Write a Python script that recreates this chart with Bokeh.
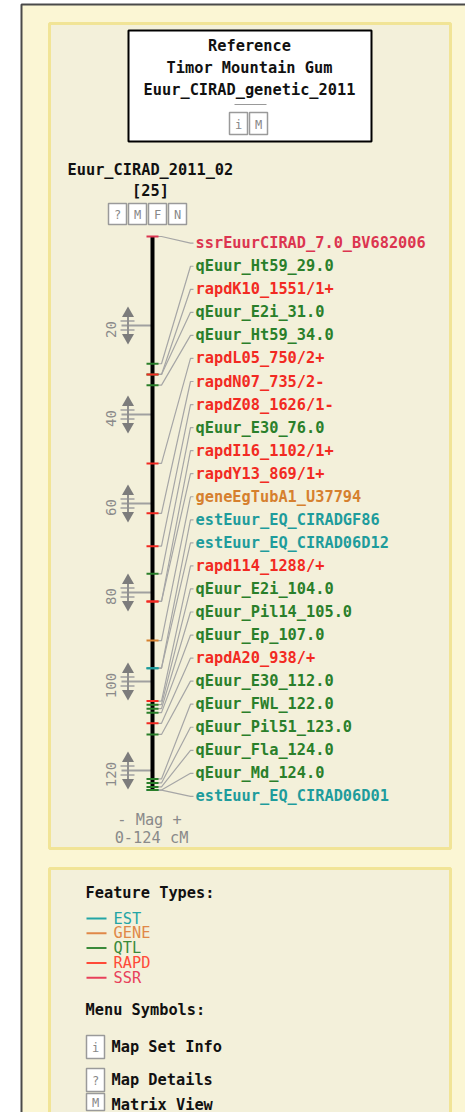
from bokeh.plotting import figure
from bokeh.models import Range1d, ColumnDataSource
from bokeh.core.properties import value
from bokeh.embed import file_html
from bokeh.resources import INLINE
import math

# ---------------- data ----------------
marker_names = [
    "ssrEuurCIRAD_7.0_BV682006", "qEuur_Ht59_29.0", "rapdK10_1551/1+", "qEuur_E2i_31.0",
    "qEuur_Ht59_34.0", "rapdL05_750/2+", "rapdN07_735/2-", "rapdZ08_1626/1-",
    "qEuur_E30_76.0", "rapdI16_1102/1+", "rapdY13_869/1+", "geneEgTubA1_U37794",
    "estEuur_EQ_CIRADGF86", "estEuur_EQ_CIRAD06D12", "rapd114_1288/+", "qEuur_E2i_104.0",
    "qEuur_Pil14_105.0", "qEuur_Ep_107.0", "rapdA20_938/+", "qEuur_E30_112.0",
    "qEuur_FWL_122.0", "qEuur_Pil51_123.0", "qEuur_Fla_124.0", "qEuur_Md_124.0",
    "estEuur_EQ_CIRAD06D01",
]
marker_pos = [0.0, 28.6, 31.0, 31.0, 33.4, 51.0, 62.2, 69.6, 75.8, 82.0, 82.0, 90.8,
              97.0, 97.0, 104.4, 105.2, 106.1, 107.0, 109.4, 111.9, 121.9, 122.8,
              123.7, 124.4, 124.4]
marker_type = ["SSR", "QTL", "RAPD", "QTL", "QTL", "RAPD", "RAPD", "RAPD", "QTL", "RAPD",
               "RAPD", "GENE", "EST", "EST", "RAPD", "QTL", "QTL", "QTL", "RAPD", "QTL",
               "QTL", "QTL", "QTL", "QTL", "EST"]
scale_ticks = [20, 40, 60, 80, 100, 120]
map_start, map_stop = 0.0, 124.4
feature_types = ["EST", "GENE", "QTL", "RAPD", "SSR"]
menu_symbols = ["i", "?", "M"]
menu_texts = ["Map Set Info", "Map Details", "Matrix View"]

# ---------------- styles ----------------
label_colors = {"SSR": "#DC3550", "RAPD": "#F22A22", "QTL": "#2A7F2A",
                "GENE": "#D6802E", "EST": "#1E9C9C"}
legend_colors = {"EST": "#23A5A5", "GENE": "#E08848", "QTL": "#3A8A3A",
                 "RAPD": "#FF4A38", "SSR": "#E8405A"}
FONT = value("DejaVu Sans Mono")
FS = "15.3px"

Y0 = 236.0      # page y of 0 cM
PX = 4.45       # px per cM
W, H = 465, 1112

p = figure(width=W, height=H, x_range=Range1d(0, W), y_range=Range1d(H, 0),
           output_backend="svg", toolbar_location=None, min_border=0)
p.extra_y_ranges = {"cm": Range1d(start=(H - Y0) / PX, end=(0 - Y0) / PX)}
p.axis.visible = False
p.grid.visible = False
p.outline_line_color = None
p.background_fill_color = "white"
p.border_fill_color = "white"

# panels
p.quad(left=21, right=480, top=4, bottom=1130, fill_color="#FBF6D4",
       line_color="#4A4A4A", line_width=2)
p.quad(left=[49, 49], right=[450, 450], top=[23, 868], bottom=[848, 1130],
       fill_color="#F3F0DA", line_color="#F1E496", line_width=3)

# title box
p.quad(left=128, right=371, top=30, bottom=141, fill_color="white",
       line_color="black", line_width=2)
p.text(x=[249, 249, 249], y=[45, 67, 89],
       text=["Reference", "Timor Mountain Gum", "Euur_CIRAD_genetic_2011"],
       text_font=FONT, text_font_size=FS, text_font_style="bold", text_color="#111111",
       text_align="center", text_baseline="middle")
p.segment(x0=234, x1=266, y0=104, y1=104, line_color="#999999", line_width=1)

def icon(xl, yt, letter, w=18, h=22):
    p.quad(left=xl, right=xl + w, top=yt, bottom=yt + h, fill_color="white",
           line_color="#9A9A9A", line_width=1.5)
    p.text(x=[xl + w / 2], y=[yt + h / 2 + 1], text=[letter], text_font=FONT,
           text_font_size="12px", text_color="#888888", text_align="center",
           text_baseline="middle")

icon(229, 112, "i")
icon(249, 112, "M")

# map header
p.text(x=[67], y=[169], text=["Euur_CIRAD_2011_02"], text_font=FONT, text_font_size=FS,
       text_font_style="bold", text_color="#111111", text_baseline="middle")
p.text(x=[150], y=[190], text=["[25]"], text_font=FONT, text_font_size=FS,
       text_font_style="bold", text_color="#111111", text_align="center",
       text_baseline="middle")
for i, s in enumerate(["?", "M", "F", "N"]):
    icon(108 + 20 * i, 203, s, w=18, h=21)

# ---------------- map (cM range) ----------------
BX = 152
for t in scale_ticks:
    p.segment(x0=121, x1=BX, y0=t, y1=t, line_color="#A0A0A0", line_width=2,
              y_range_name="cm")
    d = 4.5 / PX
    p.segment(x0=[120, 120], x1=[134, 134], y0=[t - d, t + d], y1=[t - d, t + d],
              line_color="#A0A0A0", line_width=1.5, y_range_name="cm")
    p.segment(x0=127.5, x1=127.5, y0=t - 9 / PX, y1=t + 9 / PX, line_color="#909090",
              line_width=2, y_range_name="cm")
    p.scatter(x=[127.5], y=[t - 12 / PX], marker="triangle", size=12, fill_color="#7C7C7C",
              line_color=None, y_range_name="cm")
    p.scatter(x=[127.5], y=[t + 12 / PX], marker="inverted_triangle", size=12,
              fill_color="#7C7C7C", line_color=None, y_range_name="cm")
p.text(x=[110] * len(scale_ticks), y=[t + 4 / PX for t in scale_ticks],
       text=[str(t) for t in scale_ticks], angle=math.pi / 2, text_font=FONT,
       text_font_size="14px", text_color="#8A8A8A", text_align="center",
       text_baseline="middle", y_range_name="cm")

# chromosome bar
p.segment(x0=BX, x1=BX, y0=map_start, y1=map_stop, line_color="black", line_width=4,
          y_range_name="cm")

# label positions (layout, cM units)
LAB0 = (242.7 - Y0) / PX
LSTEP = 23.05 / PX
label_y = [LAB0 + i * LSTEP for i in range(len(marker_names))]

# leader lines
xs = [[157, 161, 190, 193] for _ in marker_names]
ys = [[marker_pos[i], marker_pos[i], label_y[i], label_y[i]] for i in range(len(marker_names))]
p.multi_line(xs=xs, ys=ys, line_color="#A6A6A6", line_width=1.2, y_range_name="cm")

# marker ticks (drawn in reverse so earlier features sit on top)
order = list(range(len(marker_names)))[::-1]
tick_src = ColumnDataSource(dict(
    y=[marker_pos[i] for i in order],
    c=[label_colors[marker_type[i]] for i in order]))
p.segment(x0=146, x1=158, y0="y", y1="y", line_color="c", line_width=2,
          source=tick_src, y_range_name="cm")

lab_src = ColumnDataSource(dict(
    x=[195] * len(marker_names), y=label_y, t=marker_names,
    c=[label_colors[k] for k in marker_type]))
p.text(x="x", y="y", text="t", text_color="c", text_font=FONT, text_font_size=FS,
       text_font_style="bold", text_baseline="middle", source=lab_src, y_range_name="cm")

# mag + range
p.text(x=[149, 151], y=[819, 837], text=["- Mag +", "0-124 cM"], text_font=FONT,
       text_font_size=FS, text_color="#8A8A8A", text_align="center", text_baseline="middle")

# ---------------- legend panel ----------------
p.text(x=[85], y=[892], text=["Feature Types:"], text_font=FONT, text_font_size=FS,
       text_font_style="bold", text_color="#111111", text_baseline="middle")
leg_y = [918 + 14.8 * i for i in range(len(feature_types))]
p.segment(x0=[86] * 5, x1=[106] * 5, y0=leg_y, y1=leg_y,
          line_color=[legend_colors[f] for f in feature_types], line_width=2)
p.text(x=[113] * 5, y=leg_y, text=feature_types, text_font=FONT, text_font_size=FS,
       text_color=[legend_colors[f] for f in feature_types], text_baseline="middle")

p.text(x=[85], y=[1009], text=["Menu Symbols:"], text_font=FONT, text_font_size=FS,
       text_font_style="bold", text_color="#111111", text_baseline="middle")
menu_top = [1035, 1068, 1093]
for s, t, yt in zip(menu_symbols, menu_texts, menu_top):
    icon(86, yt, s, w=18, h=min(23, 1110 - yt))
    p.text(x=[111], y=[yt + 11], text=[t], text_font=FONT, text_font_size=FS,
           text_font_style="bold", text_color="#111111", text_baseline="middle")

open("out.html", "w").write(file_html(p, INLINE))
